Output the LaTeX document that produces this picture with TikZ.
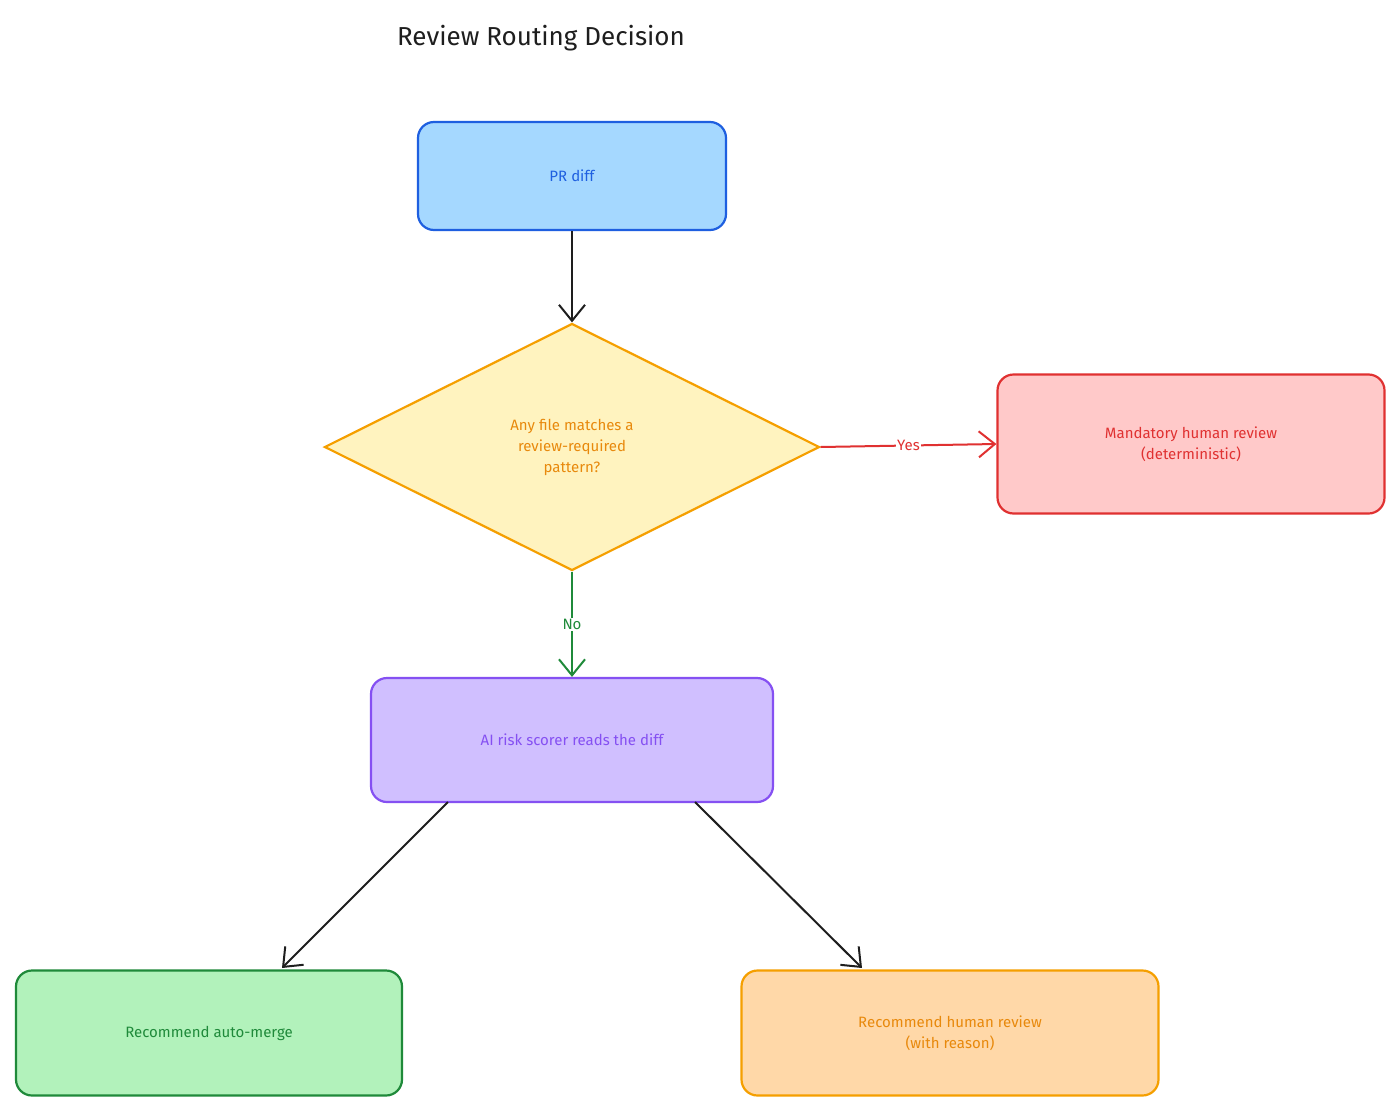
\documentclass[tikz,border=0pt]{standalone}
\usepackage{fontspec}
\setmainfont{Fira Sans}
\usetikzlibrary{shapes.geometric,arrows.meta}
\definecolor{bluef}{HTML}{A5D8FF}\definecolor{blued}{HTML}{1E5FE0}
\definecolor{yelf}{HTML}{FFF3BF}\definecolor{yeld}{HTML}{F59F00}
\definecolor{redf}{HTML}{FFC9C9}\definecolor{redd}{HTML}{E03131}
\definecolor{purf}{HTML}{D0BFFF}\definecolor{purd}{HTML}{8550F2}
\definecolor{grnf}{HTML}{B2F2BB}\definecolor{grnd}{HTML}{1F8A3A}
\definecolor{orgf}{HTML}{FFD8A8}\definecolor{orgt}{HTML}{E8890C}
\definecolor{ink}{HTML}{1E1E1E}
\begin{document}
\begin{tikzpicture}[x=1pt,y=-1pt,
  box/.style={draw,line width=2.2pt,rounded corners=16pt,inner sep=0pt,align=center,font=\fontsize{15}{21}\selectfont},
  conn/.style={line width=2pt,-{Straight Barb[length=16pt,width=26pt,line width=2pt]}},
  lab/.style={fill=white,inner sep=1pt,font=\fontsize{15}{18}\selectfont}]
\useasboundingbox[fill=white] (0,0) rectangle (1400,1111);
\node[font=\fontsize{26}{30}\selectfont,text=ink] (title) at (541,38) {Review Routing Decision};
\node[box,fill=bluef,draw=blued,text=blued,minimum width=308pt,minimum height=108pt] (pr) at (572,176) {PR diff};
\node[diamond,draw=yeld,fill=yelf,text=orgt,line width=2.2pt,minimum width=495pt,minimum height=247pt,inner sep=0pt,align=center,font=\fontsize{15}{21}\selectfont] (dec) at (572,447) {Any file matches a\\review-required\\pattern?};
\node[box,fill=redf,draw=redd,text=redd,minimum width=387pt,minimum height=139pt] (man) at (1191,444) {Mandatory human review\\(deterministic)};
\node[box,fill=purf,draw=purd,text=purd,minimum width=402pt,minimum height=124pt] (ai) at (572,740) {AI risk scorer reads the diff};
\node[box,fill=grnf,draw=grnd,text=grnd,minimum width=386pt,minimum height=125pt] (auto) at (209,1033) {Recommend auto-merge};
\node[box,fill=orgf,draw=yeld,text=orgt,minimum width=417pt,minimum height=125pt] (hum) at (950,1033) {Recommend human review\\(with reason)};
\draw[conn,draw=ink] (pr) -- (dec.north);
\draw[conn,draw=redd] (dec.east) -- node[lab,text=redd]{Yes} (man.west);
\draw[conn,draw=grnd] (dec.south) -- node[lab,text=grnd]{No} (ai.north);
\coordinate (a1) at (448,802); \coordinate (a2) at (695,802);
\coordinate (b1) at (282,968); \coordinate (b2) at (862,968);
\draw[conn,draw=ink] (a1) -- (b1);
\draw[conn,draw=ink] (a2) -- (b2);
\end{tikzpicture}
\end{document}
